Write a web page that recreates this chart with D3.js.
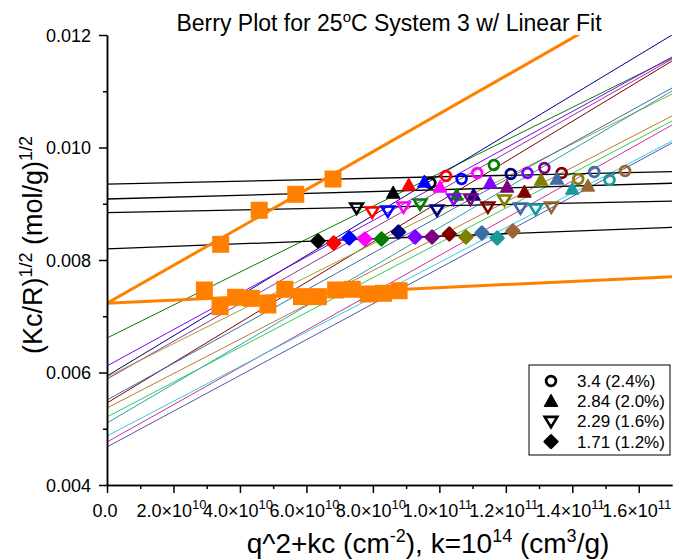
<!DOCTYPE html>
<html>
<head>
<meta charset="utf-8">
<script src="https://cdn.jsdelivr.net/npm/d3@7"></script>
<style>
  body { margin: 0; background: #fff; }
  svg { display: block; }
  text { font-family: "Liberation Sans", Arial, sans-serif; fill: #000; }
</style>
</head>
<body>
<svg id="chart" width="676" height="560"></svg>
<script>
// ---- Berry plot data, 25 °C, system 3 ----
// concentrations (legend order) and k·c offsets on the x axis
const concLabels = ["3.4 (2.4%)", "2.84 (2.0%)", "2.29 (1.6%)", "1.71 (1.2%)"];
const kc = [6.80e10, 5.68e10, 4.58e10, 3.42e10];

// q^2 for each scattering angle (cm^-2)
const q2 = [2.93e10, 3.40e10, 3.87e10, 4.34e10, 4.84e10, 5.35e10, 5.85e10,
            6.36e10, 6.88e10, 7.38e10, 7.86e10, 8.32e10, 8.79e10];

// (Kc/R)^1/2 for each concentration, one value per angle
const y340 = [0.009369, 0.009493, 0.009440, 0.009547, 0.009689, 0.009529, 0.009547,
              0.009636, 0.009547, 0.009440, 0.009564, 0.009422, 0.009582];
const y284 = [0.009191, 0.009333, 0.009387, 0.009298, 0.009156, 0.009156, 0.009369,
              0.009298, 0.009209, 0.009422, 0.009440, 0.009262, 0.009316];
const y229 = [0.008924, 0.008853, 0.008871, 0.008942, 0.008996, 0.008889, 0.009084,
              0.009084, 0.008942, 0.009067, 0.008924, 0.008907, 0.008942];
const y171 = [0.008338, 0.008302, 0.008391, 0.008373, 0.008373, 0.008498, 0.008409,
              0.008409, 0.008462, 0.008409, 0.008480, 0.008391, 0.008516];

// extrapolated points: q -> 0 (one per concentration, at x = kc)
const zeroAngle = [0.009440, 0.009168, 0.008884, 0.008279];
// extrapolated points: c -> 0 (one per angle, at x = q^2)
const zeroConc = [0.007467, 0.007170, 0.007337, 0.007319, 0.007200, 0.007479, 0.007348,
                  0.007348, 0.007467, 0.007479, 0.007396, 0.007408, 0.007454];

// linear fits, y = intercept + slope * x
const concFitIntercept = [0.009349, 0.009084, 0.008841, 0.008197];
const concFitSlope     = [1.30e-15, 1.65e-15, 1.22e-15, 2.26e-15];
const angleFitIntercept = [0.006613, 0.005938, 0.006116, 0.005884, 0.005458, 0.005920, 0.005511,
                           0.005102, 0.005369, 0.005209, 0.004764, 0.004871, 0.004676];
const angleFitSlope     = [2.928e-14, 3.566e-14, 3.231e-14, 3.346e-14, 3.576e-14, 2.959e-14, 3.263e-14,
                           3.472e-14, 3.054e-14, 3.095e-14, 3.315e-14, 3.085e-14, 3.179e-14];
const zeroAngleFit = { intercept: 0.00723, slope: 3.369e-14 };
const zeroConcFit  = { intercept: 0.00723, slope: 2.78e-15 };

// colours
const angleColors = ["#000000", "#ff0000", "#0000ff", "#ff00ff", "#008000", "#000080", "#8000ff",
                     "#800080", "#800000", "#808000", "#3a6ea5", "#179a9a", "#996633"];
const angleLineColors = ["#008000", "#000080", "#8000ff", "#993399", "#800000", "#a0a030", "#3a6ea5",
                         "#2aa0b0", "#b87a33", "#33cc55", "#cc3399", "#33ccdd", "#5555aa"];
const orange = "#ff8000";

// axis ticks
const xMajor = [0, 2e10, 4e10, 6e10, 8e10, 1.0e11, 1.2e11, 1.4e11, 1.6e11];
const xMinor = [1e10, 3e10, 5e10, 7e10, 9e10, 1.1e11, 1.3e11, 1.5e11];
const xMantissa = ["0.0", "2.0", "4.0", "6.0", "8.0", "1.0", "1.2", "1.4", "1.6"];
const xExponent = ["", "10", "10", "10", "10", "11", "11", "11", "11"];
const yMajor = [0.004, 0.006, 0.008, 0.010, 0.012];
const yMinor = [0.005, 0.007, 0.009, 0.011];
const yLabels = ["0.004", "0.006", "0.008", "0.010", "0.012"];

// ---- drawing ----
const svg = d3.select("#chart");
const x = d3.scaleLinear().domain([0, 1.7e11]).range([107, 672]);
const y = d3.scaleLinear().domain([0.004, 0.012]).range([485, 35]);

svg.append("defs").append("clipPath").attr("id", "plot-clip")
  .append("rect").attr("x", x(0)).attr("y", y(0.012))
  .attr("width", x(1.7e11) - x(0)).attr("height", y(0.004) - y(0.012));

const plot = svg.append("g").attr("clip-path", "url(#plot-clip)");
const fitLine = (a, b) => d3.line()([[x(0), y(a)], [x(1.7e11), y(a + b * 1.7e11)]]);

// per-angle fits
plot.append("g").selectAll("path").data(angleFitIntercept).join("path")
  .attr("d", (a, i) => fitLine(a, angleFitSlope[i]))
  .attr("fill", "none").attr("stroke", (d, i) => angleLineColors[i]).attr("stroke-width", 1);

// per-concentration fits
plot.append("g").selectAll("path").data(concFitIntercept).join("path")
  .attr("d", (a, i) => fitLine(a, concFitSlope[i]))
  .attr("fill", "none").attr("stroke", "#000").attr("stroke-width", 1.3);

// marker shapes
const shapes = {
  circle: g => g.append("circle").attr("r", 4.9).attr("fill", "none").attr("stroke-width", 2.7),
  up: g => g.append("path").attr("d", "M0,-7L6.8,5.2L-6.8,5.2Z").attr("stroke-width", 1),
  down: g => g.append("path").attr("d", "M-6.3,-4.5L6.3,-4.5L0,5.8Z").attr("fill", "none").attr("stroke-width", 2.6),
  diamond: g => g.append("path").attr("d", "M0,-6.3L6.3,0L0,6.3L-6.3,0Z").attr("stroke-width", 2.6).attr("stroke-linejoin", "round")
};
const seriesShapes = ["circle", "up", "down", "diamond"];
const seriesValues = [y340, y284, y229, y171];

seriesValues.forEach((vals, s) => {
  const g = plot.append("g");
  vals.forEach((v, i) => {
    const m = g.append("g").attr("transform", `translate(${x(q2[i] + kc[s])},${y(v)})`)
      .attr("stroke", angleColors[i]).attr("fill", angleColors[i]);
    shapes[seriesShapes[s]](m);
  });
});

// extrapolation fits and points
plot.append("path").attr("d", fitLine(zeroConcFit.intercept, zeroConcFit.slope))
  .attr("fill", "none").attr("stroke", orange).attr("stroke-width", 3);
plot.append("path").attr("d", fitLine(zeroAngleFit.intercept, zeroAngleFit.slope))
  .attr("fill", "none").attr("stroke", orange).attr("stroke-width", 3);

const sq = 17;
plot.append("g").selectAll("rect").data(zeroConc).join("rect")
  .attr("x", (v, i) => x(q2[i]) - sq / 2).attr("y", v => y(v) - sq / 2)
  .attr("width", sq).attr("height", sq).attr("fill", orange);
plot.append("g").selectAll("rect").data(zeroAngle).join("rect")
  .attr("x", (v, i) => x(kc[i]) - sq / 2).attr("y", v => y(v) - sq / 2)
  .attr("width", sq).attr("height", sq).attr("fill", orange);

// axes
const axisStyle = g => {
  g.select(".domain").attr("stroke-width", 1.5);
  g.selectAll(".tick line").attr("stroke-width", 1.5);
};
svg.append("g").attr("transform", `translate(0,${y(0.004)})`)
  .call(d3.axisBottom(x).tickValues(xMinor).tickSize(4).tickFormat("").tickSizeOuter(0)).call(axisStyle);
svg.append("g").attr("transform", `translate(0,${y(0.004)})`)
  .call(d3.axisBottom(x).tickValues(xMajor).tickSize(8).tickFormat("").tickSizeOuter(0)).call(axisStyle);
svg.append("g").attr("transform", `translate(${x(0)},0)`)
  .call(d3.axisLeft(y).tickValues(yMinor).tickSize(4).tickFormat("").tickSizeOuter(0)).call(axisStyle);
svg.append("g").attr("transform", `translate(${x(0)},0)`)
  .call(d3.axisLeft(y).tickValues(yMajor).tickSize(8).tickFormat("").tickSizeOuter(0)).call(axisStyle);

// y tick labels
svg.append("g").selectAll("text").data(yMajor).join("text")
  .attr("x", 91).attr("y", d => y(d) + 6.5)
  .attr("text-anchor", "end").attr("font-size", 18)
  .text((d, i) => yLabels[i]);

// x tick labels with powers of ten
svg.append("g").selectAll("text").data(xMajor).join("text")
  .attr("x", d => x(d) - 2).attr("y", 516.5)
  .attr("text-anchor", "middle").attr("font-size", 18)
  .each(function (d, i) {
    const t = d3.select(this);
    if (!xExponent[i]) { t.text(xMantissa[i]); return; }
    t.append("tspan").text(xMantissa[i] + "\u00d710");
    t.append("tspan").attr("dy", -8).attr("font-size", 13).text(xExponent[i]);
  });

// title
const title = svg.append("text").attr("x", 389).attr("y", 31)
  .attr("text-anchor", "middle").attr("font-size", 23);
title.append("tspan").text("Berry Plot for 25");
title.append("tspan").attr("dy", -9).attr("font-size", 15).text("o");
title.append("tspan").attr("dy", 9).text("C System 3 w/ Linear Fit");

// x axis title
const xt = svg.append("text").attr("x", 428).attr("y", 553)
  .attr("text-anchor", "middle").attr("font-size", 28);
xt.append("tspan").text("q^2+kc (cm");
xt.append("tspan").attr("dy", -11).attr("font-size", 18).text("-2");
xt.append("tspan").attr("dy", 11).text("), k=10");
xt.append("tspan").attr("dy", -11).attr("font-size", 18).text("14");
xt.append("tspan").attr("dy", 11).text(" (cm");
xt.append("tspan").attr("dy", -11).attr("font-size", 18).text("3");
xt.append("tspan").attr("dy", 11).text("/g)");

// y axis title
const yt = svg.append("text").attr("transform", "translate(42,245) rotate(-90)")
  .attr("text-anchor", "middle").attr("font-size", 27);
yt.append("tspan").text("(Kc/R)");
yt.append("tspan").attr("dy", -10).attr("font-size", 18).text("1/2");
yt.append("tspan").attr("dy", 10).text(" (mol/g)");
yt.append("tspan").attr("dy", -10).attr("font-size", 18).text("1/2");

// legend
const legend = svg.append("g");
legend.append("rect").attr("x", 529).attr("y", 365).attr("width", 141).attr("height", 90)
  .attr("fill", "#fff").attr("stroke", "#000").attr("stroke-width", 1);
concLabels.forEach((label, s) => {
  const cy = 381 + s * 20.2;
  const m = legend.append("g").attr("transform", `translate(551,${cy})`)
    .attr("stroke", "#000").attr("fill", "#000");
  shapes[seriesShapes[s]](m);
  legend.append("text").attr("x", 577).attr("y", cy + 6).attr("font-size", 17).text(label);
});
</script>
</body>
</html>
